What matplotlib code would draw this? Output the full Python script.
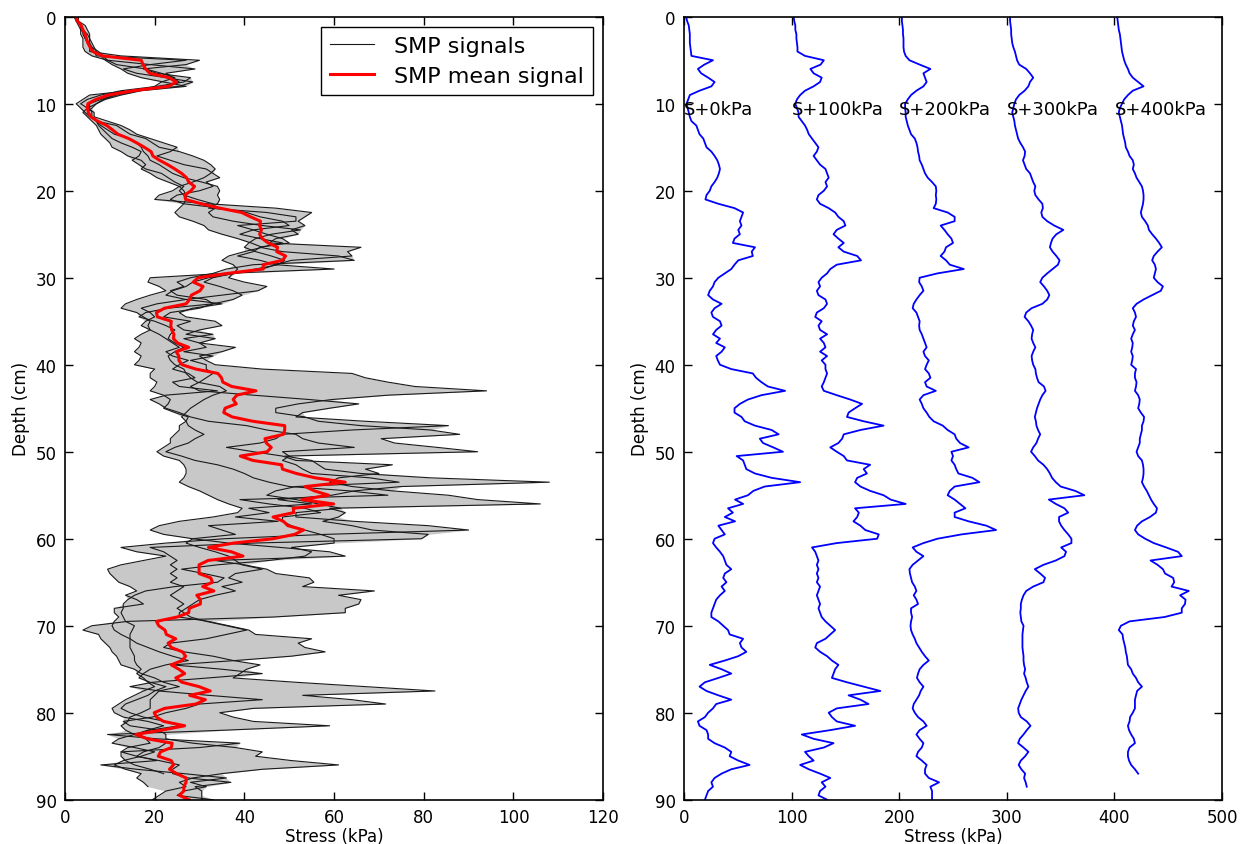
"""SMP stress profiles: five penetrometer signals and their mean.

Left panel: every signal as a thin black line, the min-max envelope in grey
and the mean signal in red. Right panel: the same five signals shifted by
100 kPa each so they can be read one by one.
"""

import matplotlib

matplotlib.use("Agg")
import matplotlib.pyplot as plt
import numpy as np

NaN = float("nan")

# Depth grid (cm) shared by all signals, one sample every 0.5 cm.
DEPTH = np.arange(0, 90.5, 0.5)

# Stress (kPa), one row = 5 cm.
SIGNAL_1 = [
    2, 3, 4.5, 5, 5.5, 5.5, 5.5, 6, 6.5, 7,
    27, 19, 13, 16, 22.5, 28.5, 25.5, 14.5, 5.5, 4,
    2.5, 3.5, 4.5, 5.5, 7, 11.5, 13, 14.5, 18, 19.5,
    21, 25.5, 28.5, 31, 32.5, 33.5, 32.5, 31, 28.5, 25.5,
    24, 21, 20, 32, 47, 55, 53.5, 52, 53.5, 50.5,
    52, 47, 45.5, 66, 63, 64, 50.5, 47, 44, 38,
    32, 28.5, 27, 24, 22.5, 27, 35, 28.5, 25.5, 27,
    33.5, 35, 30, 27, 33.5, 30, 38, 35, 30, 31.5,
    33.5, 44, 64, 67, 72, 78, 94, 72, 59.5, 52,
    47, 47, 53.5, 56.5, 66, 81.5, 88, 70.5, 73.5, 83,
    92, 49, 55, 56.5, 58, 66, 81.5, 108, 75, 64.5,
    59.5, 47.5, 55, 41, 45.5, 38, 47.5, 32, 35, 38,
    28.5, 27, 30, 33.5, 36.5, 38, 39.5, 44, 38, 36.5,
    39.5, 35, 38, 33.5, 30, 28.5, 27, 25.5, 25.5, 32,
    36.5, 41, 42.5, 55, 52, 53.5, 58, 50.5, 38, 24,
    35, 44, 32, 19.5, 14.5, 21, 32, 44, 30, 27,
    22.5, 19.5, 13, 14.5, 21, 22.5, 22.5, 28.5, 38, 44,
    42.5, 50.5, 61, 44, 35, 28.5, 25.5, 27, 22.5, 21,
    19.5,
]
SIGNAL_2 = [
    2, 2.5, 3.5, 3.5, 4.5, 4.5, 5, 5.5, 5.5, 12.5,
    30, 27, 17.5, 20.5, 28, 26.5, 20.5, 12.5, 8, 5,
    3.5, 5, 6.5, 6.5, 9.5, 12.5, 14.5, 16, 19, 22,
    25, 23.5, 20.5, 23.5, 26.5, 31.5, 33, 34.5, 31.5, 33,
    30, 25, 23.5, 26.5, 34.5, 40.5, 43.5, 48.5, 50, 42,
    39, 43.5, 48.5, 43.5, 48.5, 61, 64.5, 42, 36, 33,
    28, 25, 26.5, 23.5, 25, 31.5, 33, 30, 23.5, 22,
    28, 25, 26.5, 33, 26.5, 30, 31.5, 26.5, 33, 28,
    31.5, 31.5, 33, 31.5, 30, 28, 30, 42, 54.5, 65.5,
    59, 53, 51.5, 67, 85.5, 64, 48.5, 47, 43.5, 36,
    42, 48.5, 51.5, 73, 67, 70, 61, 59, 64, 73,
    85.5, 92, 106, 59, 62.5, 61, 57.5, 64, 68.5, 81,
    79.5, 42, 19, 22, 23.5, 25, 23.5, 25, 23.5, 25,
    23.5, 26.5, 25, 23.5, 25, 26.5, 25, 26.5, 28, 31.5,
    36, 40.5, 36, 31.5, 23.5, 22, 26.5, 33, 37.5, 43.5,
    40.5, 39, 37.5, 51.5, 67, 82.5, 53, 64, 71.5, 42,
    34.5, 37.5, 42, 59, 36, 9.5, 20.5, 39, 30, 12.5,
    16, 20.5, 8, 16, 26.5, 36, 28, 31.5, 26.5, 25,
    33,
]
SIGNAL_3 = [
    2.5, 2.5, 3, 3.5, 3.5, 4, 4, 4, 4.5, 6,
    9.5, 19, 29, 22.5, 24, 25.5, 22.5, 16, 11, 8,
    5.5, 5.5, 6, 6, 7, 8, 9.5, 11, 14.5, 16,
    17, 17.5, 18.5, 19, 21, 22.5, 24, 26.5, 30.5, 34,
    34.5, 34, 34.5, 34, 32, 45, 51.5, 51.5, 38.5, 42,
    45, 48.5, 50, 43.5, 42, 38.5, 43.5, 47, 60, 35.5,
    19, 18.5, 21, 22.5, 19, 16, 13.5, 12.5, 16, 17.5,
    19, 18.5, 19, 21, 22.5, 24, 25.5, 22.5, 24, 27.5,
    25.5, 24, 27.5, 29, 24, 25.5, 34, 22.5, 19, 21,
    22.5, 25.5, 28, 32, 40.5, 45, 51.5, 53, 56.5, 64.5,
    48.5, 50, 48.5, 51.5, 53, 55, 68, 74.5, 51.5, 47,
    45, 51.5, 56.5, 61.5, 51.5, 51.5, 64.5, 81, 90, 58,
    35.5, 22.5, 12.5, 16, 22.5, 17.5, 12.5, 9.5, 10, 11,
    12, 14.5, 16, 13.5, 16, 17.5, 11, 11, 12, 11,
    10.5, 11, 12.5, 14.5, 16, 18.5, 21, 24, 27.5, 22.5,
    19, 17.5, 16.5, 19, 22.5, 20, 18.5, 16, 13.5, 12.5,
    14.5, 17.5, 22.5, 25.5, 19, 16, 19, 22.5, 21, 17.5,
    16, 21, 25.5, 24, 24, 27.5, 37, 29, 30.5, 30.5,
    30.5,
]
SIGNAL_4 = [
    3, 3, 3.5, 4, 4, 4.5, 5, 6, 7.5, 8.5,
    9.5, 11.5, 18, 21.5, 24.5, 21.5, 20, 16.5, 11.5, 8.5,
    7, 6, 5, 6, 7, 7.5, 8.5, 9.5, 10.5, 12.5,
    15, 17, 16.5, 15, 16.5, 18, 21.5, 23, 24.5, 26.5,
    25.5, 26.5, 29.5, 33, 33.5, 32, 33, 37.5, 44, 52.5,
    46, 42.5, 41, 40, 42.5, 46, 49, 47.5, 42.5, 37.5,
    33, 31, 34.5, 37.5, 39.5, 37.5, 33, 23, 18, 16.5,
    20, 22.5, 24.5, 23.5, 23, 24.5, 26.5, 24.5, 23, 23.5,
    24.5, 26.5, 27, 28, 29.5, 34.5, 36, 33, 31, 29.5,
    28, 27, 26, 27, 27.5, 29, 31, 29, 27.5, 24.5,
    22.5, 26, 29, 34, 37.5, 40, 42, 45.5, 50, 63.5,
    72, 39, 45.5, 53.5, 57, 48.5, 48.5, 50.5, 53.5, 57,
    60, 60, 50.5, 55, 53.5, 45.5, 34, 26, 31, 35.5,
    34, 24.5, 18, 15.5, 14, 13, 13, 12.5, 13, 13.5,
    15.5, 15, 14.5, 14.5, 14.5, 14.5, 15, 15.5, 15.5, 16,
    17, 16, 17.5, 18.5, 20, 17.5, 15.5, 13.5, 12, 10.5,
    11, 13, 18.5, 22, 18.5, 15.5, 12, 10.5, 15.5, 20,
    17, 13, 11, 13.5, 17, 16, 17.5, 18.5, NaN, NaN,
    NaN,
]
SIGNAL_5 = [
    2.5, 3, 3.5, 4, 5, 5.5, 6, 6.5, 7, 8,
    9, 10.5, 12.5, 14, 17, 22, 27, 17, 12.5, 9,
    7, 5, 4, 5, 6, 7, 7.5, 8, 9, 10,
    10.5, 12.5, 14, 17, 18, 17, 19, 20.5, 23, 25.5,
    26.5, 27, 27, 26.5, 25.5, 24.5, 25.5, 28.5, 31, 32,
    35, 38.5, 41.5, 44, 40, 36.5, 35, 37.5, 38.5, 37.5,
    36.5, 40, 45, 43, 35, 27, 20.5, 17, 19, 20,
    18, 17, 19, 17, 15.5, 17, 16.5, 15.5, 17, 16.5,
    15.5, 20, 19, 19, 20.5, 20, 19, 22, 23.5, 23,
    22, 24.5, 27.5, 27, 25.5, 25.5, 24.5, 23.5, 23.5, 22,
    20.5, 22, 25.5, 26.5, 27, 27, 26.5, 25.5, 27.5, 30,
    32, 34, 36.5, 39.5, 38.5, 33, 25.5, 21, 19, 22,
    28.5, 36.5, 48, 59, 62.5, 33.5, 40, 45, 47, 54.5,
    55.5, 53, 69, 61, 66, 65.5, 62.5, 62.5, 46.5, 14,
    6, 4, 7.5, 8, 9, 10, 10.5, 11.5, 12, 12.5,
    15.5, 17, 20, 22, 25.5, 21, 20, 19, 19, 19,
    17, 14.5, 14, 12.5, 13.5, 15.5, 18, 19, 14, 12.5,
    12.5, 13.5, 15.5, 19, 22, NaN, NaN, NaN, NaN, NaN,
    NaN,
]

OFFSETS = [0, 100, 200, 300, 400]
LEFT_XTICKS = [0, 20, 40, 60, 80, 100, 120]
RIGHT_XTICKS = [0, 100, 200, 300, 400, 500]
DEPTH_TICKS = [0, 10, 20, 30, 40, 50, 60, 70, 80, 90]


def style_axis(ax):
    """Old matplotlib look: inward ticks on all four sides."""
    ax.tick_params(direction="in", top=True, right=True, length=6,
                   width=1, labelsize=12, pad=6)
    for spine in ax.spines.values():
        spine.set_linewidth(1.2)
    ax.set_ylim(90, 0)
    ax.set_yticks(DEPTH_TICKS)
    ax.set_xlabel("Stress (kPa)", fontsize=12, labelpad=1)
    ax.set_ylabel("Depth (cm)", fontsize=12, labelpad=4)


def plot_signals(ax, signals):
    low = np.nanmin(signals, axis=0)
    high = np.nanmax(signals, axis=0)
    mean = np.nanmean(signals, axis=0)

    ax.fill_betweenx(DEPTH, low, high, color="#c8c8c8", linewidth=0)
    for i, sig in enumerate(signals):
        ax.plot(sig, DEPTH, color="#1a1a1a", linewidth=0.8,
                label="SMP signals" if i == 0 else None)
    ax.plot(mean, DEPTH, color="r", linewidth=2.2, label="SMP mean signal")

    ax.set_xlim(0, 120)
    ax.set_xticks(LEFT_XTICKS)
    style_axis(ax)
    leg = ax.legend(loc="upper right", fontsize=16, fancybox=False,
                    framealpha=1, borderpad=0.4, handlelength=2.0,
                    handletextpad=0.9, labelspacing=0.45,
                    borderaxespad=0.45)
    leg.get_frame().set_edgecolor("k")
    leg.get_frame().set_linewidth(1.0)


def plot_offsets(ax, signals):
    for sig, off in zip(signals, OFFSETS):
        ax.plot(np.asarray(sig) + off, DEPTH, color="b", linewidth=1.3)
        ax.text(off, 11.2, f"S+{off}kPa", fontsize=13, ha="left",
                va="baseline")
    ax.set_xlim(0, 500)
    ax.set_xticks(RIGHT_XTICKS)
    style_axis(ax)


def main():
    signals = np.array([SIGNAL_1, SIGNAL_2, SIGNAL_3, SIGNAL_4, SIGNAL_5],
                       dtype=float)

    fig, (ax_left, ax_right) = plt.subplots(1, 2, figsize=(12.42, 8.45),
                                            dpi=100)
    fig.subplots_adjust(left=0.0523, right=0.984, bottom=0.0524,
                        top=0.979, wspace=0.15)

    plot_signals(ax_left, signals)
    plot_offsets(ax_right, signals)

    fig.savefig("out.png", dpi=100, facecolor="white")
    plt.close(fig)


if __name__ == "__main__":
    main()
